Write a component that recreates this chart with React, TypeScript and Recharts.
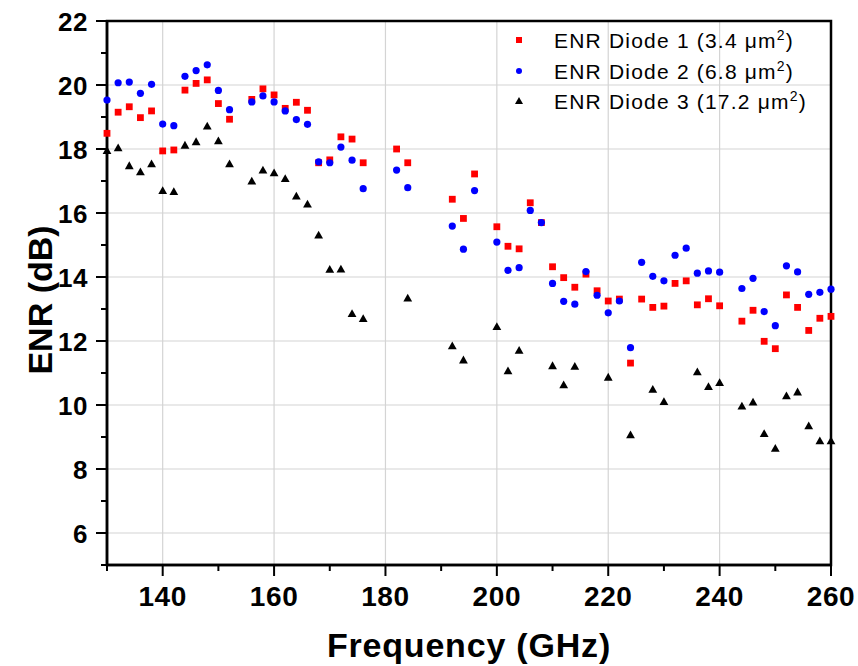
import React from 'react'
import { ScatterChart, Scatter, XAxis, YAxis, CartesianGrid, Legend, ReferenceArea } from 'recharts'

// frequencies (GHz) shared by diode 1 and diode 2
const freq12 = [
  130, 132, 134, 136, 138, 140, 142, 144, 146, 148, 150, 152,
  156, 158, 160, 162, 164, 166, 168, 170, 172, 174, 176,
  182, 184, 192, 194, 196,
  200, 202, 204, 206, 208, 210, 212, 214, 216, 218, 220, 222, 224, 226,
  228, 230, 232, 234, 236, 238, 240,
  244, 246, 248, 250, 252, 254, 256, 258, 260,
]
const enrDiode1 = [
  18.49, 19.15, 19.32, 18.98, 19.19, 17.94, 17.97, 19.84, 20.05, 20.16, 19.42, 18.93,
  19.55, 19.88, 19.69, 19.27, 19.46, 19.21, 17.57, 17.66, 18.38, 18.31, 17.57,
  18.0, 17.57, 16.43, 15.83, 17.22,
  15.57, 14.96, 14.88, 16.32, 15.7, 14.32, 13.98, 13.68, 14.09, 13.57, 13.25, 13.31, 11.31, 13.31,
  13.05, 13.09, 13.8, 13.88, 13.13, 13.32, 13.1,
  12.62, 12.96, 11.99, 11.76, 13.44, 13.05, 12.33, 12.71, 12.77,
]
const enrDiode2 = [
  19.53, 20.07, 20.09, 19.74, 20.02, 18.78, 18.73, 20.27, 20.45, 20.63, 19.83, 19.23,
  19.47, 19.66, 19.47, 19.19, 18.92, 18.77, 17.6, 17.57, 18.06, 17.65, 16.76,
  17.34, 16.79, 15.59, 14.87, 16.7,
  15.09, 14.21, 14.29, 16.08, 15.7, 13.8, 13.24, 13.15, 14.17, 13.43, 12.88, 13.25, 11.79, 14.46,
  14.02, 13.88, 14.68, 14.9, 14.12, 14.19, 14.15,
  13.64, 13.96, 12.92, 12.48, 14.35, 14.16, 13.46, 13.52, 13.62,
]

const freq3 = [
  130, 132, 134, 136, 138, 140, 142, 144, 146, 148, 150, 152,
  156, 158, 160, 162, 164, 166, 168, 170, 172, 174, 176,
  184, 192, 194, 200, 202, 204, 210, 212, 214, 220, 224,
  228, 230, 236, 238, 240,
  244, 246, 248, 250, 252, 254, 256, 258, 260,
]
const enrDiode3 = [
  17.95, 18.04, 17.48, 17.29, 17.54, 16.7, 16.67, 18.12, 18.23, 18.72, 18.26, 17.54,
  17.0, 17.34, 17.26, 17.08, 16.53, 16.28, 15.31, 14.24, 14.25, 12.86, 12.7,
  13.34, 11.85, 11.41, 12.45, 11.07, 11.71, 11.23, 10.63, 11.21, 10.87, 9.07,
  10.49, 10.11, 11.04, 10.58, 10.7,
  9.97, 10.09, 9.11, 8.65, 10.29, 10.41, 9.35, 8.88, 8.88,
]

const seriesNames = ['ENR Diode 1 (3.4 μm²)', 'ENR Diode 2 (6.8 μm²)', 'ENR Diode 3 (17.2 μm²)']

const xTicks = [130, 140, 150, 160, 170, 180, 190, 200, 210, 220, 230, 240, 250, 260]
const yTicks = [5, 6, 7, 8, 9, 10, 11, 12, 13, 14, 15, 16, 17, 18, 19, 20, 21, 22]
const xGrid = [140, 160, 180, 200, 220, 240, 260]
const yGrid = [6, 8, 10, 12, 14, 16, 18, 20, 22]

const FONT = '"Liberation Sans", Arial, Helvetica, sans-serif'
const RED = '#ff0000'
const BLUE = '#0000ff'
const BLACK = '#000000'

const d1 = freq12.map((f, i) => ({ f, v: enrDiode1[i] }))
const d2 = freq12.map((f, i) => ({ f, v: enrDiode2[i] }))
const d3 = freq3.map((f, i) => ({ f, v: enrDiode3[i] }))

const Square = ({ cx, cy }: any) => (
  <rect x={cx - 3.4} y={cy - 3.4} width={6.8} height={6.8} fill={RED} />
)
const Dot = ({ cx, cy }: any) => <circle cx={cx} cy={cy} r={3.6} fill={BLUE} />
const Tri = ({ cx, cy }: any) => (
  <polygon points={`${cx},${cy - 4.3} ${cx + 4.4},${cy + 3.5} ${cx - 4.4},${cy + 3.5}`} fill={BLACK} />
)

const XTick = ({ x, y, payload }: any) => {
  const major = payload.value % 20 === 0
  return (
    <g>
      <line x1={x} x2={x} y1={y} y2={y + (major ? 11 : 6)} stroke="#000" strokeWidth={2} />
      {major && (
        <text x={x} y={y + 41} textAnchor="middle" fontFamily={FONT} fontWeight="bold" fontSize={28} letterSpacing={0.6} fill="#000">
          {payload.value}
        </text>
      )}
    </g>
  )
}

const YTick = ({ x, y, payload }: any) => {
  const major = payload.value % 2 === 0
  return (
    <g>
      <line x1={x} x2={x - (major ? 11 : 6)} y1={y} y2={y} stroke="#000" strokeWidth={2} />
      {major && (
        <text x={x - 19} y={y + 9.5} textAnchor="end" fontFamily={FONT} fontWeight="bold" fontSize={26} letterSpacing={0.6} fill="#000">
          {payload.value}
        </text>
      )}
    </g>
  )
}

const legendMarker = (i: number) => {
  if (i === 0) return <rect x={4} y={4} width={6} height={6} fill={RED} />
  if (i === 1) return <circle cx={7} cy={7} r={3} fill={BLUE} />
  return <polygon points="7,3 11,10 3,10" fill={BLACK} />
}

const renderLegend = () => (
  <div style={{ fontFamily: FONT, fontSize: 21, letterSpacing: 1.2, color: '#000' }}>
    {seriesNames.map((name, i) => {
      const [pre, post] = name.split('²')
      return (
        <div key={name} style={{ display: 'flex', alignItems: 'center', height: 30.5 }}>
          <svg width={14} height={14} style={{ marginRight: 28 }}>
            {legendMarker(i)}
          </svg>
          <span style={{ whiteSpace: 'nowrap' }}>
            {pre}
            <sup style={{ fontSize: 14 }}>2</sup>
            {post}
          </span>
        </div>
      )
    })}
  </div>
)

export default function App() {
  return (
    <div style={{ position: 'absolute', left: 0, top: 0, width: 858, height: 666, background: '#fff' }}>
      <ScatterChart width={858} height={666} margin={{ top: 21, right: 27, bottom: 0, left: 0 }}>
        <CartesianGrid
          stroke="#d4d4d4"
          strokeWidth={1.2}
          horizontalValues={yGrid}
          verticalValues={xGrid}
        />
        <XAxis
          type="number"
          dataKey="f"
          domain={[130, 260]}
          ticks={xTicks}
          interval={0}
          height={101}
          tickSize={0}
          tickMargin={0}
          tickLine={false}
          axisLine={{ stroke: '#000', strokeWidth: 2.5 }}
          tick={<XTick />}
          label={{
            content: ({ viewBox }: any) => (
              <text
                x={viewBox.x + viewBox.width / 2}
                y={viewBox.y + 92}
                textAnchor="middle"
                fontFamily={FONT}
                fontWeight="bold"
                fontSize={34}
                letterSpacing={0.8}
                fill="#000"
              >
                Frequency (GHz)
              </text>
            ),
          }}
        />
        <YAxis
          type="number"
          dataKey="v"
          domain={[5, 22]}
          ticks={yTicks}
          interval={0}
          width={107}
          tickSize={0}
          tickMargin={0}
          tickLine={false}
          axisLine={{ stroke: '#000', strokeWidth: 2.5 }}
          tick={<YTick />}
          label={{
            content: () => (
              <text
                x={52}
                y={300}
                transform="rotate(-90 52 300)"
                textAnchor="middle"
                fontFamily={FONT}
                fontWeight="bold"
                fontSize={34}
                fill="#000"
              >
                ENR (dB)
              </text>
            ),
          }}
        />
        <ReferenceArea x1={130} x2={260} y1={5} y2={22} fill="none" stroke="#000" strokeWidth={2.5} />
        <Scatter name={seriesNames[0]} data={d1} shape={<Square />} isAnimationActive={false} />
        <Scatter name={seriesNames[1]} data={d2} shape={<Dot />} isAnimationActive={false} />
        <Scatter name={seriesNames[2]} data={d3} shape={<Tri />} isAnimationActive={false} />
        <Legend
          layout="vertical"
          align="center"
          verticalAlign="middle"
          content={renderLegend}
          wrapperStyle={{ left: 512, top: 25, width: 330 }}
        />
      </ScatterChart>
    </div>
  )
}
